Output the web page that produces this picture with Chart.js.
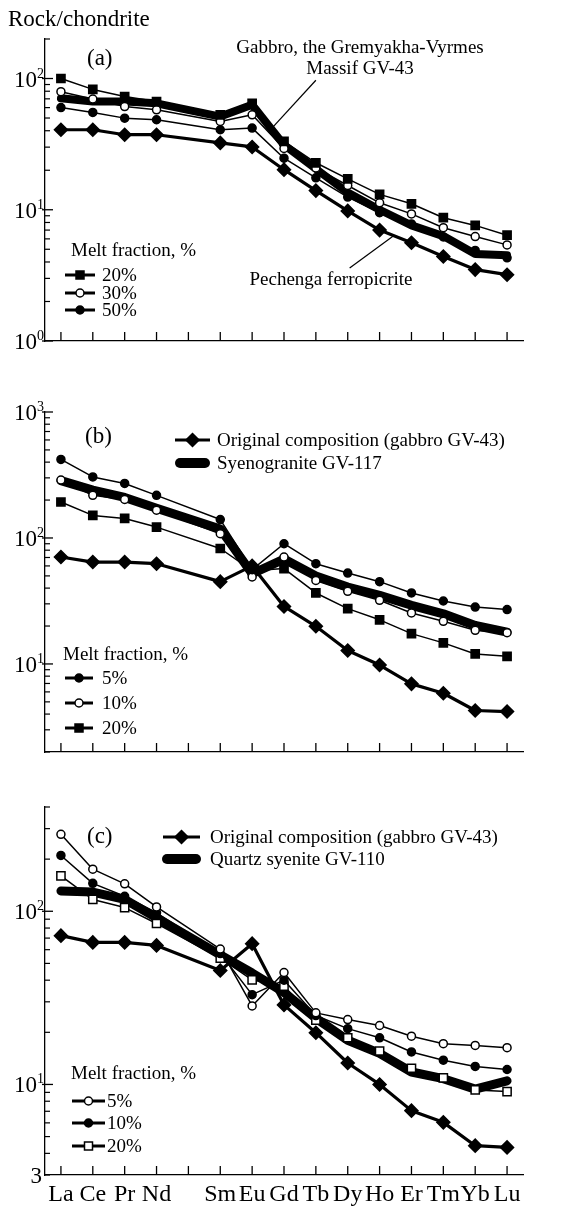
<!DOCTYPE html>
<html>
<head>
<meta charset="utf-8">
<script src="https://cdn.jsdelivr.net/npm/chart.js@4.4.0/dist/chart.umd.min.js"></script>
<style>
  body { margin: 0; background: #fff; }
  #hoja { position: relative; width: 576px; height: 1209px; }
  canvas { position: absolute; left: 0; }
</style>
</head>
<body>
<div id="hoja">
  <canvas id="grafico-a" width="576" height="370" style="top:0px"></canvas>
  <canvas id="grafico-b" width="576" height="400" style="top:370px"></canvas>
  <canvas id="grafico-c" width="576" height="429" style="top:780px"></canvas>
</div>
<script>
// elementos de tierras raras (Pm sin dato)
const categorias = ['La','Ce','Pr','Nd','Pm','Sm','Eu','Gd','Tb','Dy','Ho','Er','Tm','Yb','Lu']
const etiquetasX = ['La','Ce','Pr','Nd','','Sm','Eu','Gd','Tb','Dy','Ho','Er','Tm','Yb','Lu']

// panel (a)
const limitesA = [1, 200]
const a_pechenga = [40.7, 40.7, 37.3, 37.3, null, 32.3, 30.1, 20.2, 14.0, 9.8, 7.0, 5.6, 4.4, 3.5, 3.2]
const a_gabro    = [70.6, 66.7, 66.7, 64.7, null, 51.3, 63, 31.2, 20.5, 13.5, 10.0, 7.6, 6.3, 4.6, 4.5]
const a_f20      = [100, 82.6, 72.8, 66.7, null, 52.9, 64.7, 33.2, 22.8, 17.2, 13.1, 11.1, 8.7, 7.6, 6.4]
const a_f30      = [79.3, 69.8, 61.1, 57.7, null, 47.1, 52.9, 29.3, 20.8, 15.3, 11.3, 9.3, 7.3, 6.25, 5.4]
const a_f50      = [60.1, 55.1, 49.9, 48.5, null, 40.7, 41.9, 24.7, 17.5, 12.5, 9.5, 7.8, 6.2, 4.9, 4.3]

// panel (b)
const limitesB = [2, 1000]
const b_original     = [70.6, 64.4, 64.4, 62.5, null, 45, 60, 28.6, 19.9, 12.8, 9.8, 6.95, 5.85, 4.27, 4.19]
const b_sienogranito = [285, 240, 210, 172, null, 118, 52, 68, 50, 40.8, 35, 29.2, 25, 20.2, 17.9]
const b_f5           = [420, 305, 271, 218, null, 140, 56, 90, 62.5, 52.7, 45, 36.6, 31.6, 28.3, 27]
const b_f10          = [288, 218, 202, 166, null, 108, 49, 70.6, 46, 37.7, 32, 25.4, 21.8, 18.5, 17.7]
const b_f20          = [193, 151, 143, 122, null, 82.5, 55, 57.2, 36.6, 27.5, 22.4, 17.4, 14.7, 12, 11.5]

// panel (c)
const limitesC = [3, 400]
const c_original = [72.3, 66.1, 66.1, 63.5, null, 45.5, 65, 28.8, 19.9, 13.3, 10, 7.06, 6.04, 4.43, 4.33]
const c_sienita  = [131, 129, 117, 91.6, null, 56, 44, 34, 24.1, 18, 15.1, 11.8, 10.8, 9.4, 10.5]
const c_f5       = [278, 175, 144, 106, null, 60.5, 28.4, 44.3, 25.9, 23.7, 21.9, 19, 17.2, 16.8, 16.3]
const c_f10      = [210, 145, 122, 98, null, 57, 33, 40, 25, 21, 18.6, 15.4, 13.8, 12.7, 12.2]
const c_f20      = [160, 117, 105, 85, null, 53.7, 40.2, 37, 23.5, 18.6, 15.6, 12.4, 10.9, 9.3, 9.1]

const FUENTE = '"Liberation Serif", "Times New Roman", serif'
Chart.defaults.font.family = FUENTE
Chart.defaults.color = '#000'

const estilos = {
	circulo:       {pointStyle: 'circle', pointRadius: 4, pointBackgroundColor: '#000'},
	circuloBlanco: {pointStyle: 'circle', pointRadius: 4, pointBackgroundColor: '#fff'},
	cuadro:        {pointStyle: 'rect', pointRadius: 5.8, pointBackgroundColor: '#000'},
	cuadroBlanco:  {pointStyle: 'rect', pointRadius: 5.8, pointBackgroundColor: '#fff'},
	rombo:         {pointStyle: 'rectRot', pointRadius: 6.5, pointBackgroundColor: '#000'}
}

function serie(datos, tipo, grosor, orden){
	const base = {
		data: datos,
		borderColor: '#000',
		borderWidth: grosor,
		pointBorderColor: '#000',
		pointBorderWidth: 1.5,
		spanGaps: true,
		tension: 0,
		order: orden,
		borderJoinStyle: 'round',
		borderCapStyle: 'round'
	}
	if(tipo){
		return Object.assign(base, estilos[tipo])
	}
	base.pointRadius = 0
	return base
}

function marcador(ctx, tipo, x, y){
	ctx.beginPath()
	if(tipo == 'circulo' || tipo == 'circuloBlanco'){
		ctx.arc(x, y, 4, 0, Math.PI*2)
	}
	else if(tipo == 'cuadro' || tipo == 'cuadroBlanco'){
		ctx.rect(x-4, y-4, 8, 8)
	}
	else{
		ctx.moveTo(x, y-6.5); ctx.lineTo(x+6.5, y); ctx.lineTo(x, y+6.5); ctx.lineTo(x-6.5, y); ctx.closePath()
	}
	ctx.fillStyle = tipo.endsWith('Blanco') ? '#fff' : '#000'
	ctx.fill()
	ctx.lineWidth = 1.5
	ctx.strokeStyle = '#000'
	ctx.stroke()
}

function linea(ctx, x1, y1, x2, y2, ancho){
	ctx.beginPath()
	ctx.lineWidth = ancho
	ctx.moveTo(x1, y1)
	ctx.lineTo(x2, y2)
	ctx.stroke()
}

// marcas, etiquetas del eje y, leyendas y textos sueltos
const decorado = {
	id: 'decorado',
	afterDraw(chart, args, op){
		const ctx = chart.ctx
		const sx = chart.scales.x, sy = chart.scales.y
		const area = chart.chartArea
		ctx.save()
		ctx.strokeStyle = '#000'
		ctx.fillStyle = '#000'
		ctx.lineCap = 'butt'

		for(let i = 0; i < categorias.length; i++){
			const px = sx.getPixelForValue(i)
			linea(ctx, px, area.bottom, px, area.bottom - 9, 1.3)
		}

		const lo = Math.floor(Math.log10(sy.min)), hi = Math.ceil(Math.log10(sy.max))
		for(let e = lo; e <= hi; e++){
			for(let m = 1; m <= 9; m++){
				const v = m * Math.pow(10, e)
				if(v < sy.min*0.999 || v > sy.max*1.001) continue
				const py = sy.getPixelForValue(v)
				if(m == 1) linea(ctx, area.left - 3, py, area.left + 8, py, 1.3)
				else linea(ctx, area.left, py, area.left + 5, py, 1.2)
			}
			const v10 = Math.pow(10, e)
			if(v10 >= sy.min*0.999 && v10 <= sy.max*1.001){
				const py = sy.getPixelForValue(v10)
				ctx.font = '23px ' + FUENTE
				const wb = ctx.measureText('10').width
				ctx.font = '14px ' + FUENTE
				const we = ctx.measureText(String(e)).width
				const x0 = 44 - wb - we
				ctx.textAlign = 'left'
				ctx.textBaseline = 'alphabetic'
				ctx.font = '23px ' + FUENTE
				ctx.fillText('10', x0, py + 8)
				ctx.font = '14px ' + FUENTE
				ctx.fillText(String(e), x0 + wb, py - 1)
			}
		}
		;(op.extraY || []).forEach(v => {
			ctx.font = '23px ' + FUENTE
			ctx.textAlign = 'right'
			ctx.fillText(String(v), 42, sy.getPixelForValue(v) + 8)
		})

		ctx.textAlign = 'left'
		ctx.textBaseline = 'alphabetic'
		;(op.textos || []).forEach(t => {
			ctx.font = t.tam + 'px ' + FUENTE
			ctx.textAlign = t.alinea || 'left'
			ctx.fillText(t.texto, t.x, t.y)
		})

		;(op.leyenda || []).forEach(it => {
			ctx.lineCap = it.grueso ? 'round' : 'butt'
			ctx.strokeStyle = '#000'
			linea(ctx, it.x1, it.y, it.x2, it.y, it.ancho)
			if(it.tipo) marcador(ctx, it.tipo, (it.x1 + it.x2)/2, it.y)
			ctx.fillStyle = '#000'
			ctx.font = '19px ' + FUENTE
			ctx.textAlign = 'left'
			ctx.fillText(it.texto, it.xt, it.y + 6)
		})

		ctx.lineCap = 'butt'
		;(op.guias || []).forEach(g => {
			const datos = chart.data.datasets[g.serie].data
			const i0 = Math.floor(g.en), f = g.en - i0
			const v = Math.pow(10, Math.log10(datos[i0]) * (1 - f) + Math.log10(datos[i0 + 1]) * f)
			linea(ctx, sx.getPixelForValue(g.desde[0]), sy.getPixelForValue(g.desde[1]),
				sx.getPixelForValue(g.en), sy.getPixelForValue(v), 1.2)
		})
		ctx.restore()
	}
}

function crearGrafico(id, datasets, limites, relleno, altoX, conEtiquetas, decor){
	return new Chart(document.getElementById(id), {
		type: 'line',
		data: {labels: categorias, datasets: datasets},
		options: {
			responsive: false,
			animation: false,
			events: [],
			layout: {padding: relleno},
			plugins: {legend: {display: false}, tooltip: {enabled: false}, decorado: decor},
			scales: {
				x: {
					type: 'category',
					offset: true,
					grid: {display: false, drawTicks: false},
					border: {display: true, color: '#000', width: 1.3},
					ticks: {
						display: conEtiquetas,
						autoSkip: false,
						maxRotation: 0,
						padding: 5,
						color: '#000',
						font: {size: 24, family: FUENTE},
						callback: (v, i) => etiquetasX[i]
					},
					afterFit: s => { s.height = altoX }
				},
				y: {
					type: 'logarithmic',
					min: limites[0],
					max: limites[1],
					grid: {display: false, drawTicks: false},
					border: {display: true, color: '#000', width: 1.3},
					ticks: {display: false},
					afterFit: s => { s.width = 45 }
				}
			}
		},
		plugins: [decorado]
	})
}

crearGrafico('grafico-a', [
	serie(a_f20, 'cuadro', 1.5, 1),
	serie(a_f30, 'circuloBlanco', 1.5, 1),
	serie(a_f50, 'circulo', 1.5, 1),
	serie(a_pechenga, 'rombo', 3.2, 2),
	serie(a_gabro, null, 8, 3)
], limitesA, {top: 39, bottom: 19, left: 0, right: 53}, 10, false, {
	textos: [
		{texto: 'Rock/chondrite', x: 8, y: 26, tam: 23},
		{texto: '(a)', x: 87, y: 65, tam: 23},
		{texto: 'Gabbro, the Gremyakha-Vyrmes', x: 360, y: 53, tam: 19, alinea: 'center'},
		{texto: 'Massif GV-43', x: 360, y: 74, tam: 19, alinea: 'center'},
		{texto: 'Pechenga ferropicrite', x: 331, y: 285, tam: 19, alinea: 'center'},
		{texto: 'Melt fraction, %', x: 71, y: 256, tam: 19}
	],
	leyenda: [
		{tipo: 'cuadro', texto: '20%', x1: 65, x2: 95, y: 275, xt: 102, ancho: 3},
		{tipo: 'circuloBlanco', texto: '30%', x1: 65, x2: 95, y: 293, xt: 102, ancho: 3},
		{tipo: 'circulo', texto: '50%', x1: 65, x2: 95, y: 310, xt: 102, ancho: 3}
	],
	guias: [
		{serie: 4, desde: [8.0, 97], en: 6.6},
		{serie: 3, desde: [9.06, 3.6], en: 10.44}
	]
})

crearGrafico('grafico-b', [
	serie(b_f5, 'circulo', 1.5, 1),
	serie(b_f10, 'circuloBlanco', 1.5, 1),
	serie(b_f20, 'cuadro', 1.5, 1),
	serie(b_original, 'rombo', 3.2, 2),
	serie(b_sienogranito, null, 9, 3)
], limitesB, {top: 42, bottom: 8, left: 0, right: 53}, 10, false, {
	textos: [
		{texto: '(b)', x: 85, y: 73, tam: 23},
		{texto: 'Melt fraction, %', x: 63, y: 290, tam: 19}
	],
	leyenda: [
		{tipo: 'rombo', texto: 'Original composition (gabbro GV-43)', x1: 175, x2: 210, y: 70, xt: 217, ancho: 3},
		{tipo: null, grueso: true, texto: 'Syenogranite GV-117', x1: 180, x2: 205, y: 93, xt: 217, ancho: 10},
		{tipo: 'circulo', texto: '5%', x1: 65, x2: 93, y: 308, xt: 102, ancho: 3},
		{tipo: 'circuloBlanco', texto: '10%', x1: 65, x2: 93, y: 333, xt: 102, ancho: 3},
		{tipo: 'cuadro', texto: '20%', x1: 65, x2: 93, y: 358, xt: 102, ancho: 3}
	]
})

crearGrafico('grafico-c', [
	serie(c_f5, 'circuloBlanco', 1.5, 1),
	serie(c_f10, 'circulo', 1.5, 1),
	serie(c_f20, 'cuadroBlanco', 1.5, 1),
	serie(c_original, 'rombo', 3.2, 2),
	serie(c_sienita, null, 9, 3)
], limitesC, {top: 27, bottom: 0, left: 0, right: 53}, 34, true, {
	extraY: [3],
	textos: [
		{texto: '(c)', x: 87, y: 63, tam: 23},
		{texto: 'Melt fraction, %', x: 71, y: 299, tam: 19}
	],
	leyenda: [
		{tipo: 'rombo', texto: 'Original composition (gabbro GV-43)', x1: 163, x2: 200, y: 57, xt: 210, ancho: 3},
		{tipo: null, grueso: true, texto: 'Quartz syenite GV-110', x1: 167, x2: 196, y: 79, xt: 210, ancho: 10},
		{tipo: 'circuloBlanco', texto: '5%', x1: 72, x2: 105, y: 321, xt: 107, ancho: 3},
		{tipo: 'circulo', texto: '10%', x1: 72, x2: 105, y: 343, xt: 107, ancho: 3},
		{tipo: 'cuadroBlanco', texto: '20%', x1: 72, x2: 105, y: 366, xt: 107, ancho: 3}
	]
})
</script>
</body>
</html>
